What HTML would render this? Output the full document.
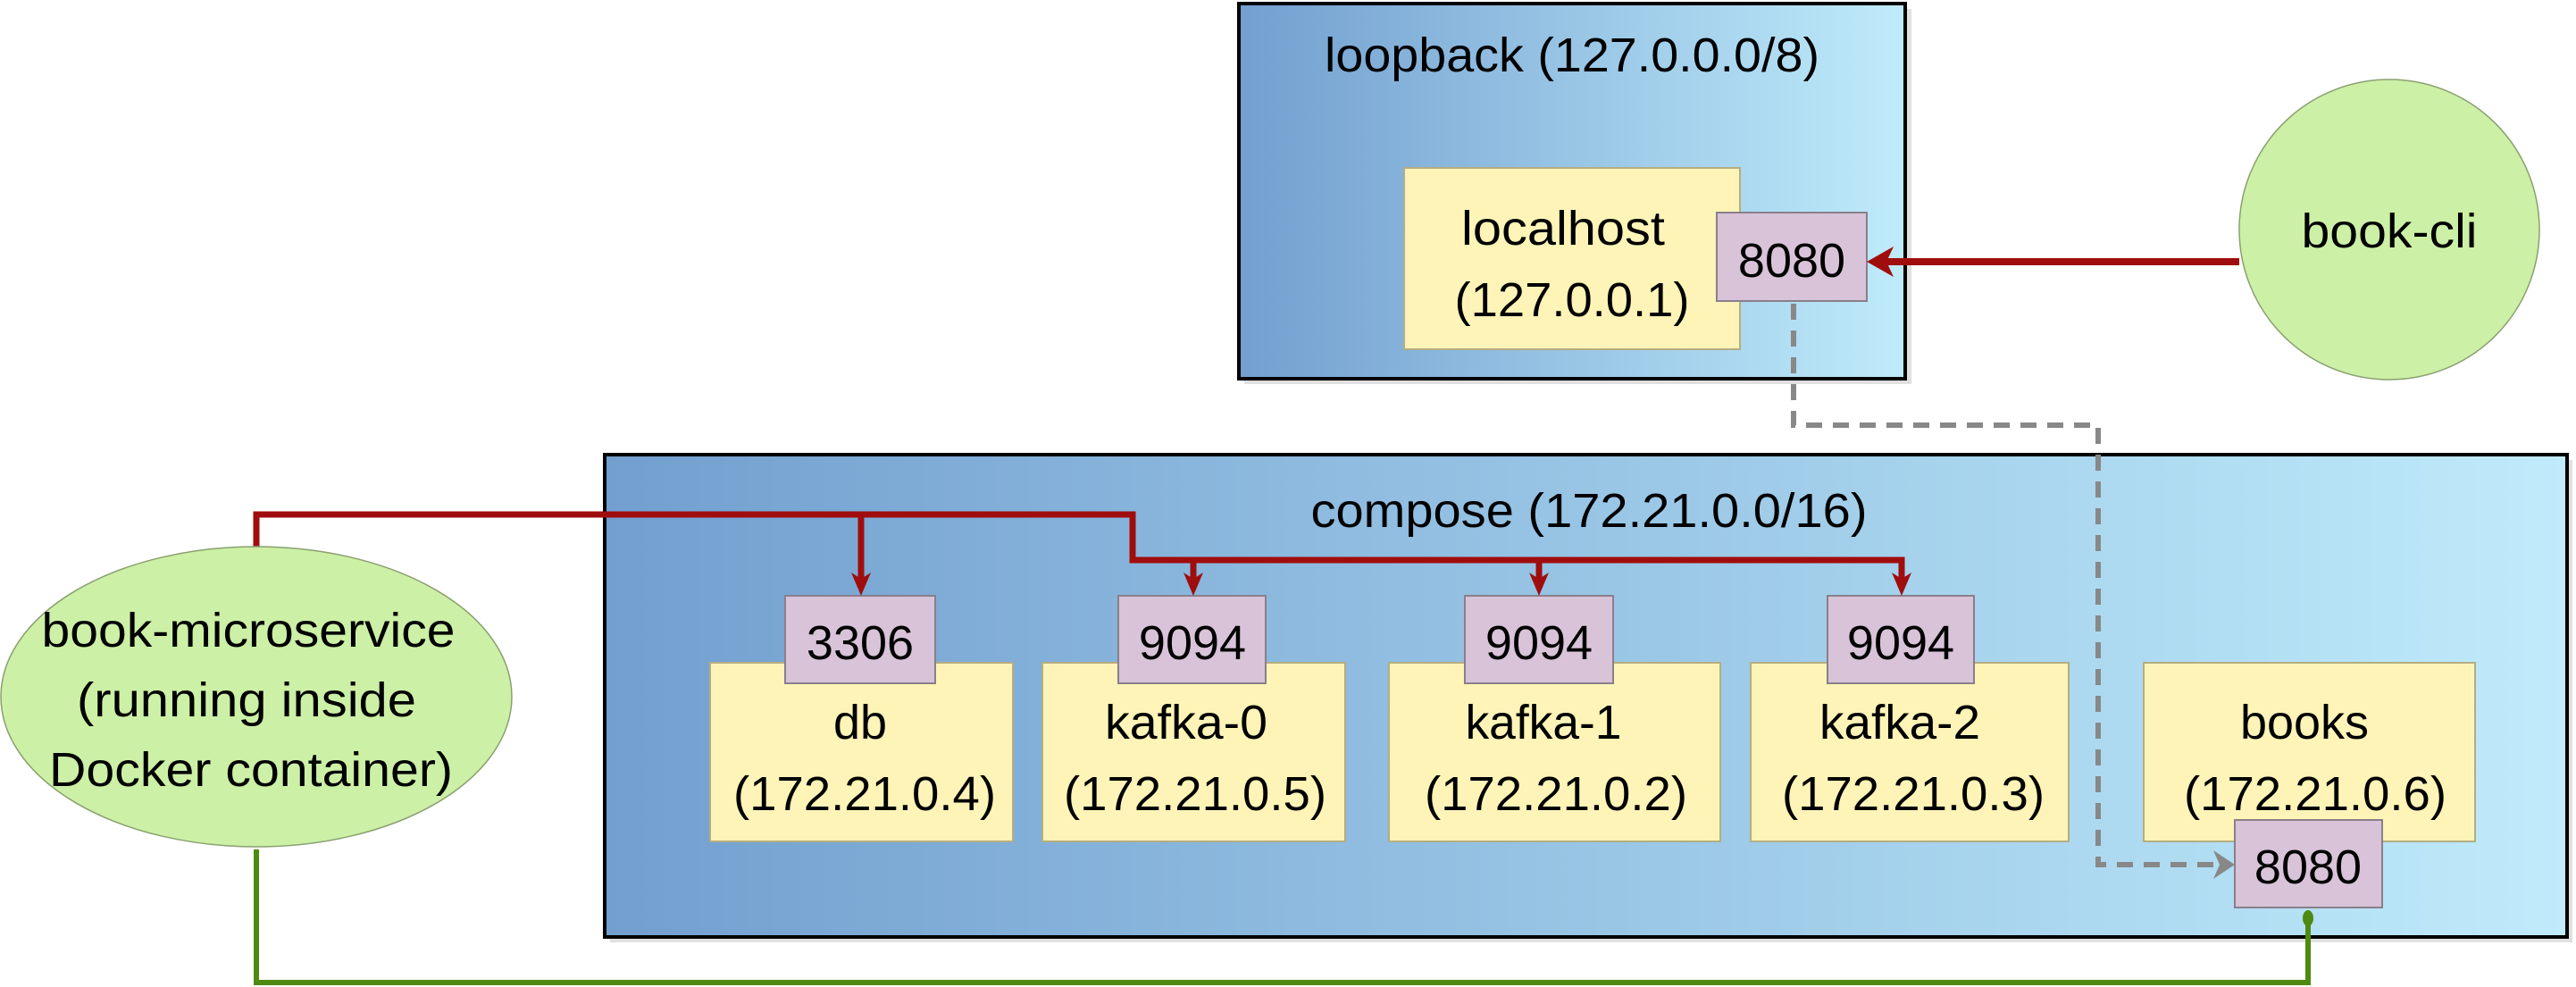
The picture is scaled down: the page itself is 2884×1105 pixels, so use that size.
<!DOCTYPE html>
<html><head><meta charset="utf-8"><style>html,body{margin:0;padding:0;background:#fff}svg{display:block}</style></head>
<body>
<svg width="2884" height="1105" viewBox="0 0 2884 1105" xmlns="http://www.w3.org/2000/svg" font-family="'Liberation Sans', sans-serif" font-size="54" text-anchor="middle">
<defs>
<linearGradient id="g" x1="0" x2="1" y1="0" y2="0"><stop offset="0" stop-color="#729fcf"/><stop offset="1" stop-color="#bfebfb"/></linearGradient>
</defs>
<!-- loopback -->
<rect x="1393" y="10" width="747" height="420" fill="#ccc" opacity="0.6"/>
<rect x="1387" y="4" width="746" height="420" fill="url(#g)" stroke="#000" stroke-width="4"/>
<text x="1760" y="80" textLength="554" lengthAdjust="spacingAndGlyphs">loopback (127.0.0.0/8)</text>
<rect x="1572" y="188" width="376" height="203" fill="#fef4b8" stroke="#b5ad80" stroke-width="2"/>
<text x="1750" y="274" textLength="228" lengthAdjust="spacingAndGlyphs">localhost</text>
<text x="1760" y="354" textLength="263" lengthAdjust="spacingAndGlyphs">(127.0.0.1)</text>
<rect x="1922" y="238" width="168" height="99" fill="#d8c3d8" stroke="#8a7f8a" stroke-width="2"/>
<text x="2006" y="310">8080</text>
<!-- book-cli -->
<circle cx="2675" cy="257" r="168" fill="#ccf0a6" stroke="#8aa070" stroke-width="1.5"/>
<text x="2675" y="277" textLength="197" lengthAdjust="spacingAndGlyphs">book-cli</text>
<line x1="2507" y1="293" x2="2100" y2="293" stroke="#a00d0d" stroke-width="8"/>
<polygon points="2090,293 2120,276 2112,293 2120,310" fill="#a00d0d"/>
<!-- compose -->
<rect x="683" y="515" width="2197" height="540" fill="#ccc" opacity="0.6"/>
<rect x="677" y="509" width="2197" height="540" fill="url(#g)" stroke="#000" stroke-width="4"/>
<text x="1779" y="590" textLength="623" lengthAdjust="spacingAndGlyphs">compose (172.21.0.0/16)</text>
<!-- yellow boxes -->
<g fill="#fef4b8" stroke="#b5ad80" stroke-width="2">
<rect x="795" y="742" width="339" height="200"/>
<rect x="1167" y="742" width="339" height="200"/>
<rect x="1555" y="742" width="371" height="200"/>
<rect x="1960" y="742" width="356" height="200"/>
<rect x="2400" y="742" width="371" height="200"/>
</g>
<g>
<text x="963" y="827">db</text>
<text x="968" y="907" textLength="294" lengthAdjust="spacingAndGlyphs">(172.21.0.4)</text>
<text x="1328" y="827" textLength="182" lengthAdjust="spacingAndGlyphs">kafka-0</text>
<text x="1338" y="907" textLength="294" lengthAdjust="spacingAndGlyphs">(172.21.0.5)</text>
<text x="1728" y="827" textLength="175" lengthAdjust="spacingAndGlyphs">kafka-1</text>
<text x="1742" y="907" textLength="294" lengthAdjust="spacingAndGlyphs">(172.21.0.2)</text>
<text x="2127" y="827" textLength="180" lengthAdjust="spacingAndGlyphs">kafka-2</text>
<text x="2142" y="907" textLength="294" lengthAdjust="spacingAndGlyphs">(172.21.0.3)</text>
<text x="2580" y="827">books</text>
<text x="2592" y="907" textLength="294" lengthAdjust="spacingAndGlyphs">(172.21.0.6)</text>
</g>
<!-- ports -->
<g fill="#d8c3d8" stroke="#8a7f8a" stroke-width="2">
<rect x="879" y="667" width="168" height="98"/>
<rect x="1252" y="667" width="165" height="98"/>
<rect x="1640" y="667" width="166" height="98"/>
<rect x="2046" y="667" width="164" height="98"/>
<rect x="2502" y="918" width="165" height="98"/>
</g>
<text x="963" y="738">3306</text>
<text x="1335" y="738">9094</text>
<text x="1723" y="738">9094</text>
<text x="2128" y="738">9094</text>
<text x="2584" y="989">8080</text>
<!-- gray dashed -->
<polyline points="2008,340 2008,476 2349,476 2349,968 2488,968" fill="none" stroke="#888" stroke-width="6" stroke-dasharray="18,12"/>
<polygon points="2502,968 2478,952 2485,968 2478,984" fill="#888"/>
<!-- red lines -->
<g fill="none" stroke="#a00d0d" stroke-width="7">
<polyline points="287,613 287,576 1268,576 1268,627 2129,627 2129,655"/>
<line x1="964" y1="576" x2="964" y2="655"/>
<line x1="1336" y1="627" x2="1336" y2="655"/>
<line x1="1723" y1="627" x2="1723" y2="655"/>
</g>
<g fill="#a00d0d">
<polygon points="964,667 953,641 964,648 975,641"/>
<polygon points="1336,667 1325,641 1336,648 1347,641"/>
<polygon points="1723,667 1712,641 1723,648 1734,641"/>
<polygon points="2129,667 2118,641 2129,648 2140,641"/>
</g>
<!-- microservice -->
<ellipse cx="287" cy="780" rx="286" ry="168" fill="#ccf0a6" stroke="#8aa070" stroke-width="1.5"/>
<text x="278" y="724" textLength="463" lengthAdjust="spacingAndGlyphs">book-microservice</text>
<text x="276" y="802" textLength="380" lengthAdjust="spacingAndGlyphs">(running inside</text>
<text x="281" y="880" textLength="452" lengthAdjust="spacingAndGlyphs">Docker container)</text>
<!-- green -->
<polyline points="287,951 287,1100 2584,1100 2584,1030" fill="none" stroke="#4f8a10" stroke-width="6"/>
<ellipse cx="2584" cy="1028" rx="6" ry="9" fill="#4f8a10"/>
</svg>
</body></html>
